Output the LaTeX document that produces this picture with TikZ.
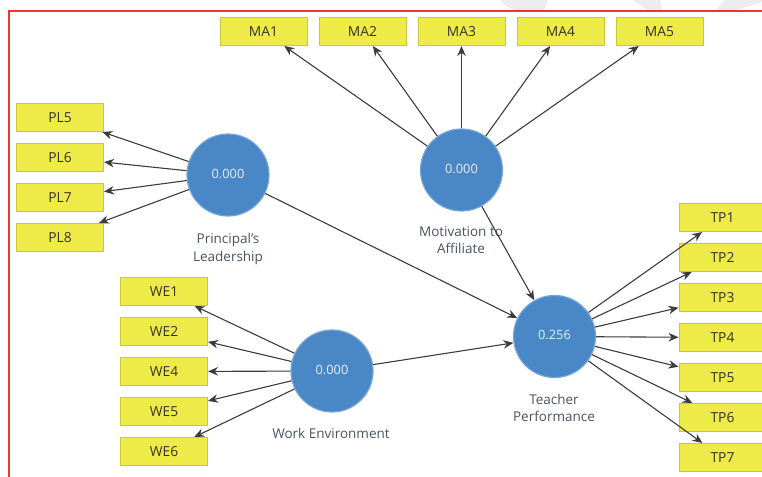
\documentclass[tikz,border=0pt]{standalone}
\usepackage{fontspec}
\setmainfont{Open Sans}
\usepackage{tikz}
\usetikzlibrary{arrows.meta,positioning,calc}
\tikzset{>={Stealth[length=10pt,width=8.5pt]}}
\tikzset{
  indicador/.style={draw=borde, line width=1pt, fill=amar, text=textobox,
    minimum width=87pt, minimum height=28pt, inner sep=0pt,
    font=\fontsize{13.8}{15}\selectfont},
  latente/.style={circle, draw=azulclaro, line width=1.2pt, fill=azul, text=blanco,
    minimum size=82pt, inner sep=0pt, font=\fontsize{12.8}{15}\selectfont},
  etiqueta/.style={text=textolat, align=center, inner sep=0pt,
    font=\fontsize{13.5}{17.5}\selectfont},
  flecha/.style={->, line width=1.1pt, draw=linea}
}

\begin{document}
\begin{tikzpicture}[x=1pt, y=-1pt]
\definecolor{amar}{HTML}{EEEA47}
\definecolor{borde}{HTML}{CBC73C}
\definecolor{textobox}{HTML}{333328}
\definecolor{azul}{HTML}{4A87C6}
\definecolor{azulclaro}{HTML}{76A6D9}
\definecolor{blanco}{HTML}{E8EFF8}
\definecolor{textolat}{HTML}{4A5262}
\definecolor{linea}{HTML}{3C3C3C}
\definecolor{rojo}{HTML}{EE3535}

\useasboundingbox (0,0) rectangle (762,476);

% Marca de agua (arriba)
\fill[gray!14] (500,0) .. controls (504,6) and (512,11) .. (522,11) -- (544,11) -- (548,0) -- cycle;
\fill[gray!14] (633,0) -- (660,0) -- (663,11) -- (648,11) -- cycle;
\fill[gray!14] (724,0) -- (762,0) -- (762,2) -- (734,11) -- (715,11) -- cycle;

% Marco rojo
\draw[rojo, line width=2pt] (9,520) -- (9,11) -- (800,11);

% Constructos
\node[latente] (pl) at (228,175)   {\raisebox{3pt}{0.000}};
\node[latente] (ma) at (461.5,170) {\raisebox{3pt}{0.000}};
\node[latente] (we) at (332,371)   {\raisebox{3pt}{0.000}};
\node[latente] (tp) at (554.5,336.5) {\raisebox{3pt}{0.256}};

\node[etiqueta] at (228,249)   {Principal's\\Leadership};
\node[etiqueta] at (461,240)   {Motivation to\\Affiliate};
\node[etiqueta] at (331,433)   {Work Environment};
\node[etiqueta] at (554,408)   {Teacher\\Performance};

% Indicadores
\foreach \i/\x in {1/263.5, 2/362.5, 3/461.5, 4/560.5, 5/659.5} {
  \node[indicador] (ma\i) at (\x,31.5) {MA\i};
}
\foreach \i/\y in {5/117.5, 6/157.5, 7/197.5, 8/237.5} {
  \node[indicador] (pl\i) at (60,\y) {PL\i};
}
\foreach \i/\y in {1/291.5, 2/331.5, 4/371.5, 5/411.5, 6/451.5} {
  \node[indicador] (we\i) at (164,\y) {WE\i};
}
\foreach \i in {1,...,7} {
  \node[indicador] (tp\i) at (722.5,{177.5+40*\i}) {TP\i};
}

% Cargas
\foreach \i in {1,...,5} {\draw[flecha] (ma) -- (ma\i);}
\foreach \i in {5,6,7,8} {\draw[flecha] (pl) -- (pl\i);}
\foreach \i in {1,2,4,5,6} {\draw[flecha] (we) -- (we\i);}
\foreach \i in {1,...,7} {\draw[flecha] (tp) -- (tp\i);}

% Caminos
\draw[flecha] (pl) -- (tp);
\draw[flecha] (ma) -- (tp);
\draw[flecha] (we) -- (tp);

\end{tikzpicture}
\end{document}
